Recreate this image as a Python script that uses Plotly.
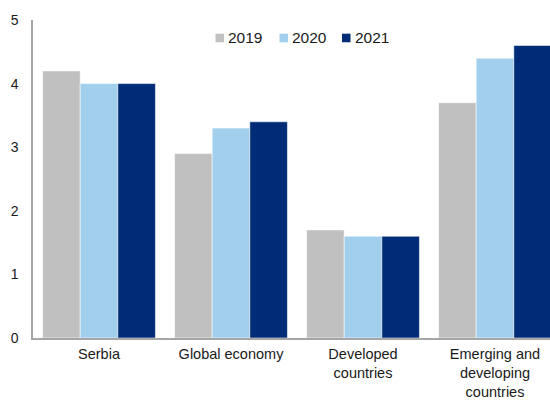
import plotly.graph_objects as go

# Categories and GDP growth projections (%) per year
categories = ["Serbia", "Global economy", "Developed<br>countries",
              "Emerging and<br>developing<br>countries"]
years = ["2019", "2020", "2021"]
values_2019 = [4.2, 2.9, 1.7, 3.7]
values_2020 = [4.0, 3.3, 1.6, 4.4]
values_2021 = [4.0, 3.4, 1.6, 4.6]
y_ticks = [0, 1, 2, 3, 4, 5]

colors = ["#C0C0C0", "#A1CFEC", "#002B76"]
series = [values_2019, values_2020, values_2021]

W, H = 550, 401
M_L, M_R, M_T, M_B = 33, 0, 19.5, 63
plot_w = W - M_L - M_R
plot_h = H - M_T - M_B

fig = go.Figure()
for name, vals, col in zip(years, series, colors):
    fig.add_trace(go.Bar(
        x=list(range(len(categories))), y=vals, name=name,
        marker=dict(color=col, line=dict(color="rgba(255,255,255,0.55)", width=1)),
        showlegend=False,
    ))

# Legend drawn as small squares with labels above the bars
def px_to_paper_x(px):
    return (px - M_L) / plot_w

def px_to_paper_y(py):
    return (H - M_B - py) / plot_h

legend_sq_x = [215.5, 279.5, 342]
legend_y = 37.5
shapes = []
annotations = []
for name, col, sx in zip(years, colors, legend_sq_x):
    shapes.append(dict(
        type="rect", xref="paper", yref="paper",
        x0=px_to_paper_x(sx), x1=px_to_paper_x(sx + 8.5),
        y0=px_to_paper_y(legend_y + 4.3), y1=px_to_paper_y(legend_y - 4.3),
        fillcolor=col, line=dict(width=0),
    ))
    annotations.append(dict(
        text=name, xref="paper", yref="paper",
        x=px_to_paper_x(sx + 10.5), y=px_to_paper_y(legend_y),
        xanchor="left", yanchor="middle", showarrow=False,
        font=dict(family="Liberation Sans, Arial, sans-serif", size=15.5, color="#1a1a1a"),
    ))

fig.update_layout(
    width=W, height=H,
    margin=dict(l=M_L, r=M_R, t=M_T, b=M_B, autoexpand=False),
    paper_bgcolor="white", plot_bgcolor="white",
    barmode="group", bargap=0.145, bargroupgap=0,
    shapes=shapes, annotations=annotations,
    font=dict(family="Liberation Sans, Arial, sans-serif", color="#1a1a1a"),
)
fig.update_xaxes(
    tickmode="array", tickvals=list(range(len(categories))), ticktext=categories,
    range=[-0.5, -0.5 + plot_w / 132.0], automargin=False,
    showline=True, linecolor="#A6A6A6", linewidth=1.5,
    showgrid=False, zeroline=False, ticks="", ticklabelstandoff=2,
    tickfont=dict(size=14.5, color="#1a1a1a"),
)
fig.update_yaxes(
    range=[0, 5], tickmode="array", tickvals=y_ticks, automargin=False,
    showline=True, linecolor="#A6A6A6", linewidth=1.5,
    showgrid=False, zeroline=False, ticks="", ticklabelstandoff=10,
    tickfont=dict(size=14, color="#1a1a1a"),
)

fig.write_html("out.html")
